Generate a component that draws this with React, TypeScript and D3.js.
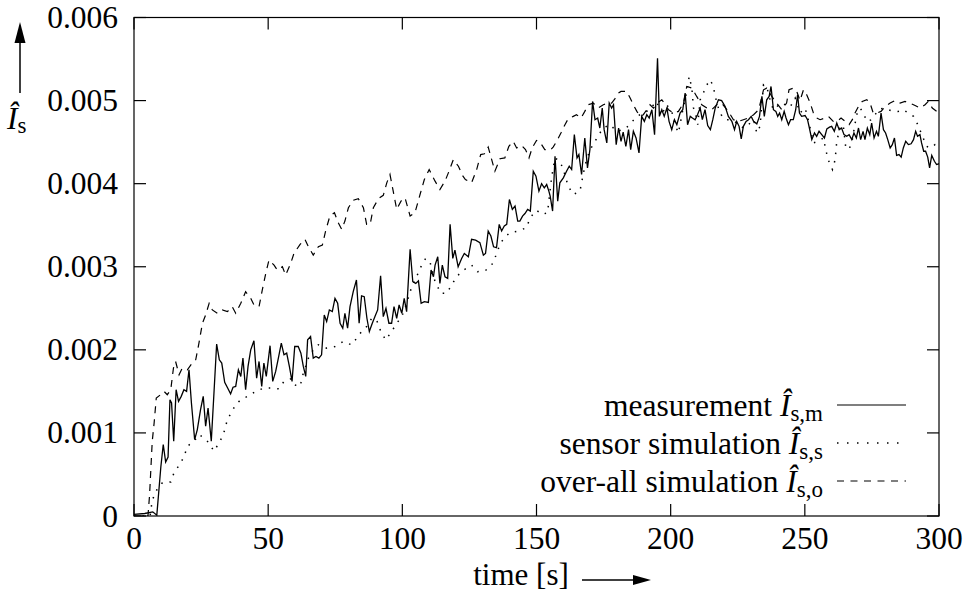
import React from "react";
import * as d3 from "d3";

// ---- data (values in units of 0.001) ----
const UNIT = 0.001;

const measTime = [0,4,7,8.5,10,10.9,11.8,12.7,13.4,14.0,14.8,15.7,16.6,17.6,18.6,19.6,20.5,21.4,22.6,23.6,24.8,25.8,26.7,27.6,28.8,29.8,30.8,31.8,32.7,33.8,34.9,36.0,36.9,37.9,38.9,39.8,40.6,41.6,42.5,43.5,44.7,45.7,46.6,47.6,48.4,49.3,50.7,51.7,52.8,53.8,54.9,55.9,56.9,57.9,58.9,59.9,61.2,62.2,63.1,64.0,64.7,65.8,66.8,67.8,68.9,69.9,70.9,71.8,72.8,73.9,74.9,75.9,76.8,77.8,78.6,79.6,80.5,81.7,82.9,83.9,84.8,85.8,86.8,87.7,88.8,89.8,90.8,91.9,92.9,93.9,95.0,96.0,96.9,97.9,98.8,99.8,100.7,101.6,102.9,103.9,105.0,106.0,107.0,108.2,109.7,110.7,111.6,112.2,113.2,114.0,114.9,115.9,116.9,117.8,118.8,119.6,120.8,122.1,123.1,124.6,125.8,127.3,128.9,130.2,131.0,132.0,133.0,134.0,135.1,136.1,137.0,138.0,138.9,139.9,141.0,142.0,143.0,143.8,144.8,145.7,146.7,147.7,148.8,149.8,150.9,151.9,152.9,153.8,154.6,155.1,156.0,156.9,157.9,158.7,160.0,161.2,162.2,163.1,164.1,165.1,165.8,166.8,168.0,169.0,169.9,170.9,171.8,172.8,173.6,174.5,175.2,176.2,177.1,178.0,178.7,179.7,180.6,181.5,182.3,183.3,184.3,185.1,186.1,187.1,188.2,189.2,190.2,191.1,192.0,193.0,194.0,195.1,195.8,196.7,197.6,198.6,199.4,200.4,201.4,202.3,203.5,204.5,205.4,206.3,207.3,208.1,209.1,210.0,211.0,211.8,212.8,213.8,214.8,215.7,216.6,217.8,219.0,220.3,221.5,222.8,223.8,224.6,225.5,226.3,227.1,228.1,229.0,230.0,230.9,232.1,233.1,234.0,234.9,235.8,236.7,237.4,238.3,239.2,239.9,240.6,241.4,242.3,243.0,243.9,244.7,245.7,246.6,247.3,248.0,248.8,250.1,251.0,251.7,252.6,253.6,254.4,255.3,256.3,257.3,258.2,259.2,260.0,261.0,261.9,262.8,263.7,264.6,265.6,266.5,267.5,268.3,269.2,270.0,270.8,271.7,272.4,273.3,274.2,274.9,275.8,276.7,277.4,278.4,279.3,280.1,280.9,281.8,282.6,283.4,284.2,285.1,285.9,286.7,287.6,288.6,289.6,290.5,291.3,292.0,292.9,293.5,294.3,295.0,295.8,296.5,297.3,298.3,299.1,300];
const measValue = [0.02,0.03,0.05,0.01,0.59,0.86,0.65,0.71,1.40,1.36,0.90,1.52,1.38,1.44,1.52,1.50,1.76,1.36,0.92,1.04,1.28,1.44,1.08,1.30,0.90,1.48,2.07,1.88,1.84,1.61,1.54,1.47,1.55,1.56,1.76,1.68,1.90,1.52,1.80,2.00,2.11,1.66,1.86,1.56,1.84,1.68,2.05,1.62,1.74,1.90,2.08,1.94,1.96,1.80,1.62,2.04,2.04,1.96,1.80,1.68,2.12,2.16,1.90,1.92,1.90,1.94,2.42,2.34,2.48,2.46,2.62,2.56,2.32,2.26,2.44,2.26,2.52,2.70,2.84,2.32,2.65,2.64,2.38,2.22,2.32,2.40,2.48,2.89,2.40,2.50,2.32,2.32,2.52,2.38,2.54,2.44,2.62,2.46,3.21,2.82,2.80,2.83,2.56,2.58,2.57,2.96,2.88,3.02,3.12,2.80,3.02,2.88,2.86,3.51,3.10,3.20,3.00,3.10,3.16,3.12,3.33,3.32,3.29,3.14,3.16,3.43,3.37,3.24,3.23,3.51,3.43,3.49,3.51,3.81,3.69,3.73,3.55,3.55,3.61,3.64,3.69,3.67,4.15,4.09,3.91,4.00,3.95,3.99,3.91,3.85,3.67,4.33,3.79,4.01,4.07,4.15,4.21,4.17,4.59,4.31,4.35,4.11,4.55,4.19,4.41,4.99,4.77,4.79,4.67,4.91,4.65,4.49,4.97,4.91,4.95,4.47,4.67,4.51,4.62,4.45,4.65,4.41,4.63,4.55,4.37,4.81,4.75,4.83,4.79,4.89,4.59,5.51,4.81,4.89,4.81,4.91,4.75,4.65,4.77,4.71,4.85,4.89,5.09,4.71,4.81,4.79,4.77,4.83,4.91,4.77,4.89,4.70,4.65,4.77,4.91,5.01,5.00,4.93,4.81,4.75,4.65,4.75,4.69,4.54,4.69,4.75,4.77,4.81,4.75,4.72,4.81,5.05,4.81,5.01,5.05,5.17,4.89,4.87,4.81,4.85,4.77,4.87,4.79,4.71,4.77,4.77,4.89,5.07,4.85,4.81,4.82,4.77,4.67,4.53,4.61,4.57,4.63,4.59,4.55,4.66,4.68,4.69,4.63,4.73,4.65,4.67,4.59,4.57,4.59,4.53,4.61,4.55,4.67,4.53,4.63,4.53,4.67,4.59,4.73,4.55,4.63,4.57,4.85,4.65,4.61,4.53,4.43,4.47,4.55,4.34,4.35,4.32,4.43,4.51,4.47,4.48,4.53,4.63,4.57,4.59,4.49,4.39,4.39,4.32,4.19,4.34,4.27,4.23,4.24];

const sensTime = [0,6.0,6.8,8.7,10.6,13.7,14.9,16.8,18.6,19.9,22.4,24.2,26.1,27.9,29.8,31.7,33.3,34.8,36.0,37.9,39.8,42.9,45.3,48.4,50.9,54.0,55.9,58.4,59.6,61.9,63.1,65.0,66.8,68.7,71.8,74.9,78.0,81.1,83.0,84.8,86.7,88.6,90.4,92.0,93.8,96.0,97.9,99.8,101.6,103.5,105.3,107.2,108.7,110.3,112.2,114.4,116.5,118.4,120.2,122.1,123.3,125.8,128.0,130.8,133.3,134.8,136.4,138.0,140.1,143.2,146.3,147.6,150.0,152.1,154.1,155.6,156.9,158.7,160.0,161.8,163.7,166.2,168.0,169.9,171.2,172.8,174.9,177.4,179.9,182.3,184.5,187.3,190.0,192.0,194.8,196.5,198.5,200.4,201.5,202.9,204.3,206.0,206.9,207.9,208.5,209.0,210.1,211.0,212.2,213.1,214.7,215.9,216.6,217.8,218.8,220.3,222.2,223.8,225.5,227.1,229.0,230.9,232.1,233.3,234.6,235.8,236.7,237.7,239.0,240.1,241.4,244.5,246.4,248.2,250.1,251.3,253.2,255.0,256.9,257.8,258.5,259.4,260.3,261.3,261.9,263.1,264.3,265.2,266.5,267.7,269.3,270.6,271.8,273.1,274.9,276.2,277.4,279.3,281.1,283.0,284.8,286.7,288.6,290.5,292.1,293.6,295.4,296.7,298.5,300];
const sensValue = [0,0,0.19,0.33,0.40,0.41,0.52,0.61,0.71,0.84,0.90,0.98,0.94,0.88,0.78,0.88,0.98,1.16,1.23,1.34,1.40,1.45,1.50,1.54,1.54,1.53,1.62,1.65,1.58,1.56,1.72,1.90,2.00,2.06,2.02,2.04,2.10,2.06,2.14,2.22,2.28,2.38,2.36,2.22,2.12,2.22,2.32,2.40,2.56,2.76,2.88,3.02,3.10,3.06,2.82,2.68,2.68,2.78,2.88,2.94,2.97,3.02,2.94,2.95,3.02,3.13,3.27,3.35,3.41,3.43,3.47,3.59,3.68,3.63,3.65,4.07,4.31,4.27,4.17,3.97,3.87,3.91,4.21,4.41,4.47,4.57,4.67,4.71,4.63,4.65,4.70,4.81,4.85,4.89,4.99,4.82,4.95,4.87,4.72,4.61,4.85,5.11,5.29,5.15,4.91,4.89,4.71,5.01,5.09,5.17,5.25,5.17,5.05,4.91,4.83,4.77,4.77,4.75,4.71,4.67,4.71,4.77,4.61,4.69,5.19,5.17,5.05,4.93,4.89,4.95,4.97,4.92,5.03,4.85,4.91,4.77,4.49,4.51,4.55,4.41,4.31,4.23,4.17,4.29,4.51,4.67,4.71,4.45,4.41,4.53,4.83,4.91,4.85,4.75,4.77,4.83,4.89,4.91,4.89,4.87,4.87,4.89,4.85,4.81,4.71,4.59,4.45,4.43,4.47,4.45];

const overTime = [0,5.2,5.8,6.8,7.5,8.3,9.9,11.2,12.4,13.7,14.7,15.5,16.8,18.0,19.9,21.7,23.0,24.2,25.5,26.7,28.0,29.2,31.1,32.9,34.8,36.6,37.9,39.8,41.6,43.5,44.7,46.6,47.8,49.1,50.3,52.2,53.4,55.3,56.5,58.4,59.6,61.9,63.7,65.0,66.8,68.7,70.2,71.4,73.0,74.7,76.1,77.4,78.6,79.9,81.7,83.6,85.5,86.7,88.0,89.2,91.1,92.9,94.2,95.4,96.6,97.9,99.5,101.0,102.9,104.7,106.6,108.2,110.0,112.2,114.0,115.9,117.4,119.0,120.9,122.4,123.5,124.6,125.8,127.7,129.2,130.6,132.0,133.3,134.5,136.4,138.2,139.7,141.3,142.6,144.4,145.9,147.2,148.4,150.0,151.3,153.1,155.0,156.2,157.5,159.1,160.6,161.8,163.7,164.9,166.6,168.0,169.3,171.2,173.0,174.9,176.7,178.0,179.2,180.5,181.5,183.6,184.9,186.1,187.4,188.6,189.8,191.1,192.3,193.6,195.0,196.7,198.0,199.2,201.0,202.9,204.8,206.0,207.9,209.7,211.6,213.5,215.3,217.2,219.0,221.5,223.4,225.3,227.1,229.0,230.9,232.8,234.6,235.8,237.7,239.5,241.4,243.2,244.1,245.7,247.0,248.2,249.5,250.7,252.0,253.2,254.4,255.7,257.5,258.8,260.6,262.0,263.5,265.0,266.5,267.7,268.7,270.0,271.4,273.1,274.3,275.5,276.8,278.4,279.9,281.8,283.6,285.5,287.3,289.2,291.1,292.9,294.8,296.0,297.5,299.1,300];
const overValue = [0,0,0.25,0.90,1.12,1.42,1.46,1.50,1.46,1.52,1.78,1.86,1.70,1.78,1.76,1.84,1.88,2.08,2.32,2.42,2.56,2.48,2.44,2.48,2.46,2.52,2.44,2.56,2.70,2.62,2.54,2.52,2.72,2.92,3.08,3.02,2.96,3.00,2.90,3.04,3.16,3.27,3.33,3.24,3.14,3.24,3.26,3.43,3.61,3.65,3.53,3.45,3.55,3.71,3.80,3.82,3.71,3.51,3.51,3.71,3.82,3.86,4.01,4.11,3.91,3.69,3.79,3.83,3.61,3.65,3.87,4.05,4.17,4.03,3.93,4.03,4.15,4.29,4.21,4.10,4.05,4.03,4.01,4.17,4.35,4.36,4.44,4.29,4.15,4.30,4.31,4.45,4.51,4.43,4.46,4.41,4.31,4.43,4.52,4.50,4.41,4.40,4.44,4.51,4.61,4.71,4.78,4.81,4.83,4.79,4.87,4.95,4.97,4.91,4.95,4.97,4.97,5.02,5.09,5.11,5.11,5.03,4.95,4.87,4.81,4.83,4.89,4.95,4.91,4.97,5.01,4.95,4.89,4.85,4.87,4.97,5.17,5.15,5.05,4.95,4.91,4.89,4.95,4.97,4.87,4.77,4.75,4.77,4.79,4.83,4.89,5.13,5.15,5.05,4.97,4.89,4.97,5.13,5.15,5.11,5.00,5.13,5.07,4.97,4.85,4.79,4.77,4.79,4.81,4.75,4.75,4.79,4.75,4.71,4.77,4.85,4.93,4.99,5.01,4.97,4.85,4.85,4.87,4.93,4.97,5.00,4.97,4.99,4.97,4.94,4.91,4.95,4.99,4.91,4.87,4.83];

const xTicks = [0, 50, 100, 150, 200, 250, 300];
const yTicks = [0, 0.001, 0.002, 0.003, 0.004, 0.005, 0.006];
const yTickLabels = ["0", "0.001", "0.002", "0.003", "0.004", "0.005", "0.006"];
const legendLabels = ["measurement ", "sensor simulation ", "over-all simulation "];
const legendSubs = ["s,m", "s,s", "s,o"];
const xLabel = "time [s]";

// ---- layout ----
const W = 965, H = 592;
const L = 134, R = 939, T = 17.5, B = 516;
const FONT = '"Liberation Serif"';
const FS = 31.5;
const SUB = 23;
const tf: React.CSSProperties = { fontFamily: FONT };

export default function App() {
  const x = d3.scaleLinear().domain([0, 300]).range([L, R]);
  const y = d3.scaleLinear().domain([0, 0.006]).range([B, T]);
  const mk = (ts: number[], vs: number[]) =>
    d3.line<number>().x((_, i) => x(ts[i])).y((v) => y(v * UNIT))(vs) || "";

  const series = [
    { d: mk(measTime, measValue), dash: undefined as string | undefined, w: 1.3 },
    { d: mk(sensTime, sensValue), dash: "1.5,7", w: 1.5 },
    { d: mk(overTime, overValue), dash: "7,6", w: 1.2 },
  ];
  const legendDash = [undefined, "1.5,8.5", "7,6.5"];
  const TL = 12;

  return (
    <svg width={W} height={H} style={{ position: "absolute", left: 0, top: 0, background: "#fff" }}>
      <rect x={0} y={0} width={W} height={H} fill="#fff" />
      <defs>
        <clipPath id="pa"><rect x={L} y={T - 2} width={R - L} height={B - T + 2} /></clipPath>
      </defs>
      <g clipPath="url(#pa)">
        {series.map((s, i) => (
          <path key={i} d={s.d} fill="none" stroke="#000" strokeWidth={s.w}
            strokeDasharray={s.dash} strokeLinejoin="miter" />
        ))}
      </g>
      <rect x={L} y={T} width={R - L} height={B - T} fill="none" stroke="#000" strokeWidth={1.2} />
      {yTicks.map((t, i) => (
        <g key={"y" + i}>
          <line x1={L} x2={L + TL} y1={y(t)} y2={y(t)} stroke="#000" strokeWidth={1.2} />
          <line x1={R} x2={R - TL} y1={y(t)} y2={y(t)} stroke="#000" strokeWidth={1.2} />
          <text x={118} y={y(t) + 10.5} textAnchor="end" fontSize={FS} style={tf}>{yTickLabels[i]}</text>
        </g>
      ))}
      {xTicks.map((t, i) => (
        <g key={"x" + i}>
          <line x1={x(t)} x2={x(t)} y1={B} y2={B - TL} stroke="#000" strokeWidth={1.2} />
          <line x1={x(t)} x2={x(t)} y1={T} y2={T + TL} stroke="#000" strokeWidth={1.2} />
          <text x={x(t)} y={549} textAnchor="middle" fontSize={FS} style={tf}>{t}</text>
        </g>
      ))}
      <text x={521} y={585} textAnchor="middle" fontSize={31} style={tf}>{xLabel}</text>
      <line x1={582} x2={634} y1={580} y2={580} stroke="#000" strokeWidth={1.5} />
      <path d="M 651 580 L 633 575 L 633 585 Z" fill="#000" />
      <line x1={20} x2={20} y1={93} y2={40} stroke="#000" strokeWidth={1.5} />
      <path d="M 20 22 L 14.5 43 L 25.5 43 Z" fill="#000" />
      <text x={7} y={129} fontSize={FS} style={tf}>
        <tspan fontStyle="italic">Î</tspan>
        <tspan fontSize={SUB} dy={4}>s</tspan>
      </text>
      {legendLabels.map((lab, i) => {
        const ly = 405 + i * 38;
        return (
          <g key={"l" + i}>
            <text x={823} y={ly + 11} textAnchor="end" fontSize={FS} style={tf}>
              {lab}
              <tspan fontStyle="italic">Î</tspan>
              <tspan fontSize={SUB} dy={5}>{legendSubs[i]}</tspan>
            </text>
            <line x1={837} x2={906} y1={ly} y2={ly} stroke="#000"
              strokeWidth={i === 1 ? 1.5 : 1.2} strokeDasharray={legendDash[i]} />
          </g>
        );
      })}
    </svg>
  );
}
